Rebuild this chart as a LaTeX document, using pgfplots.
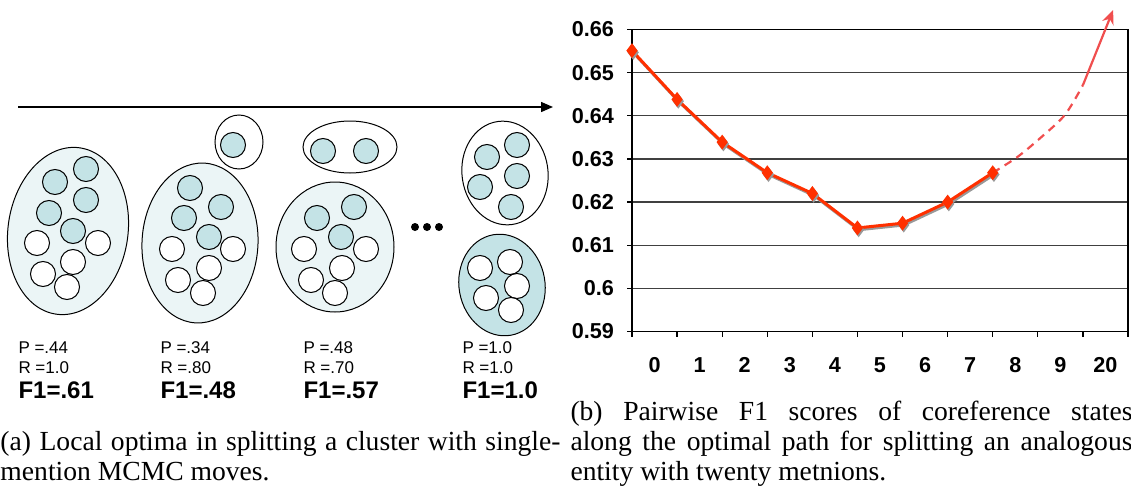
\documentclass[border=0pt]{standalone}
\usepackage{fontspec}
\setmainfont{Liberation Serif}
\newfontfamily\arial{Liberation Sans}
\usepackage{pgfplots}
\pgfplotsset{compat=1.18}
\usetikzlibrary{arrows.meta}

\definecolor{lightfill}{RGB}{235,245,246}
\definecolor{tealfill}{RGB}{196,227,230}
\definecolor{mainred}{RGB}{255,48,0}
\definecolor{dashred}{RGB}{240,78,78}

\begin{document}
\begin{tikzpicture}
\useasboundingbox (0,0) rectangle (565.5pt,-249pt);

% left panel, drawn in reference pixel units (y downwards)
\begin{scope}[x=0.5pt,y=-0.5pt,line width=0.5pt]
  \draw[line width=0.7pt,-{Triangle[length=6pt,width=5pt]}] (18,107) -- (553,107);

  % cluster 1
  \draw[fill=lightfill,rotate around={-8:(68,231)}] (68,231) ellipse [x radius=60,y radius=84];
  \foreach \x/\y in {55/182,86/169,86/200,49/213,73/231}
    \draw[fill=tealfill] (\x,\y) circle [radius=12.5];
  \foreach \x/\y in {37/243,98/243,73/262,43/274,67/287}
    \draw[fill=white] (\x,\y) circle [radius=12.5];

  % cluster 2
  \draw (239,142) ellipse [x radius=24,y radius=27];
  \draw[fill=tealfill] (233,145) circle [radius=12.5];
  \draw[fill=lightfill,rotate around={-3:(200,243)}] (200,243) ellipse [x radius=58,y radius=80];
  \foreach \x/\y in {190/188,221/207,184/218,209/237}
    \draw[fill=tealfill] (\x,\y) circle [radius=12.5];
  \foreach \x/\y in {172/249,233/249,209/268,178/280,203/293}
    \draw[fill=white] (\x,\y) circle [radius=12.5];

  % cluster 3
  \draw (350,147) ellipse [x radius=47,y radius=26];
  \draw[fill=tealfill] (323,151) circle [radius=12.5];
  \draw[fill=tealfill] (366,151) circle [radius=12.5];
  \draw[fill=lightfill] (335,247) ellipse [x radius=59,y radius=65];
  \foreach \x/\y in {317/218,354/207,341/237}
    \draw[fill=tealfill] (\x,\y) circle [radius=12.5];
  \foreach \x/\y in {304/249,366/249,342/268,311/280,335/293}
    \draw[fill=white] (\x,\y) circle [radius=12.5];

  \foreach \x in {415,427,439}
    \fill (\x,227) circle [radius=4];

  % cluster 4
  \draw[rotate around={8:(505,173)}] (505,173) ellipse [x radius=43,y radius=52];
  \foreach \x/\y in {517/145,487/157,517/176,480/187,511/207}
    \draw[fill=tealfill] (\x,\y) circle [radius=12.5];
  \draw[fill=tealfill,rotate around={10:(502,285)}] (502,285) ellipse [x radius=43,y radius=51];
  \foreach \x/\y in {480/268,510/262,517/286,486/298,511/310}
    \draw[fill=white] (\x,\y) circle [radius=12.5];

  % scores
  \foreach \x/\p/\r/\f in {18/.44/1.0/.61,160/.34/.80/.48,303/.48/.70/.57,462/1.0/1.0/1.0}{
    \node[anchor=base west,inner sep=0,font=\arial\fontsize{8.5}{10}\selectfont] at (\x,353) {P =\p};
    \node[anchor=base west,inner sep=0,font=\arial\fontsize{8.5}{10}\selectfont] at (\x,373) {R =\r};
    \node[anchor=base west,inner sep=0,font=\arial\bfseries\fontsize{12}{14}\selectfont] at (\x,398) {F1=\f};
  }

  % captions
  \node[anchor=base west,inner sep=0,text width=280pt,align=justify,
        font=\fontsize{13.8}{15}\selectfont] at (0,450)
    {(a) Local optima in splitting a cluster with single-\linebreak mention MCMC moves.};
  \node[anchor=base west,inner sep=0,text width=281pt,align=justify,
        font=\fontsize{13.8}{15}\selectfont] at (570,420)
    {(b) Pairwise F1 scores of coreference states\linebreak along the optimal path for splitting an analogous\linebreak entity with twenty metnions.};
\end{scope}

% right panel
\begin{axis}[
  at={(316pt,-165.75pt)}, anchor=south west,
  width=248pt, height=151pt, scale only axis,
  xmin=0, xmax=11, ymin=0.59, ymax=0.66,
  xtick={0.5,1.5,2.5,3.5,4.5,5.5,6.5,7.5,8.5,9.5,10.5},
  xticklabels={0,1,2,3,4,5,6,7,8,9,20},
  minor xtick={0,1,2,3,4,5,6,7,8,9,10,11},
  ytick={0.59,0.60,0.61,0.62,0.63,0.64,0.65,0.66},
  yticklabels={0.59,0.6,0.61,0.62,0.63,0.64,0.65,0.66},
  tick pos=left, tick align=outside,
  major tick length=2.5pt, minor tick length=2.5pt,
  tick style={black,line width=0.6pt},
  major x tick style={draw=none},
  ymajorgrids, grid style={line width=0.6pt,black!75},
  axis line style={line width=0.9pt},
  ticklabel style={font=\arial\bfseries\fontsize{10.8}{12}\selectfont},
  /pgf/number format/assume math mode=true,
  xticklabel style={yshift=-7pt},
  yticklabel style={xshift=-3pt},
  clip=false,
]
% shadow
\addplot[black!40, line width=1.5pt, mark=diamond*, mark size=2.5pt,
  xshift=0.6pt, yshift=-0.9pt, forget plot]
  coordinates {(0,0.6551)(1,0.6438)(2,0.6339)(3,0.6268)(4,0.6220)(5,0.6140)(6,0.6151)(7,0.6200)(8,0.6268)};
\addplot[mainred, line width=1.5pt, mark=diamond*, mark size=2.5pt]
  coordinates {(0,0.6551)(1,0.6438)(2,0.6339)(3,0.6268)(4,0.6220)(5,0.6140)(6,0.6151)(7,0.6200)(8,0.6268)};
% projected continuation
\addplot[dashred, line width=1.1pt, smooth, dash pattern=on 4pt off 3pt]
  coordinates {(8,0.6268)(8.54,0.6304)(9.05,0.6348)(9.6,0.6402)(10.0,0.6471)};
\addplot[dashred, line width=1.1pt, -{Stealth[length=7pt,width=6pt]}]
  coordinates {(10.0,0.6471)(10.67,0.6645)};
\end{axis}
\end{tikzpicture}
\end{document}
